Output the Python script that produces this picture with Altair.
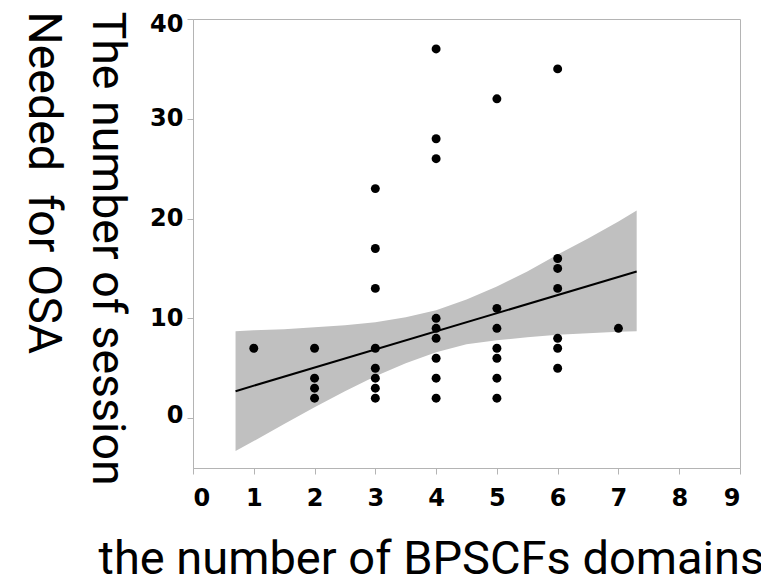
import altair as alt
import pandas as pd

# Scatter data: number of BPSCFs domains vs number of sessions
x_vals = [1,
          2, 2, 2, 2,
          3, 3, 3, 3, 3, 3, 3, 3,
          4, 4, 4, 4, 4, 4, 4, 4, 4,
          5, 5, 5, 5, 5, 5, 5,
          6, 6, 6, 6, 6, 6, 6,
          7]
y_vals = [7,
          7, 4, 3, 2,
          23, 17, 13, 7, 5, 4, 3, 2,
          37, 28, 26, 10, 9, 8, 6, 4, 2,
          32, 11, 9, 7, 6, 4, 2,
          35, 16, 15, 13, 8, 7, 5,
          9]

# Confidence band
band_x = [0.7, 1, 1.5, 2, 2.5, 3, 3.5, 4, 4.5, 5, 5.5, 6, 6.5, 7, 7.3]
band_lo = [-3.3, -2.3, -0.6, 1.1, 2.7, 4.2, 5.5, 6.6, 7.4, 7.8, 8.1, 8.35, 8.5, 8.65, 8.7]
band_hi = [8.7, 8.8, 8.9, 9.1, 9.3, 9.6, 10.1, 10.8, 11.9, 13.2, 14.7, 16.4, 18.0, 19.7, 20.8]

# Fit line end points
fit_x = [0.7, 7.3]
fit_y = [2.7, 14.7]

x_ticks = [0, 1, 2, 3, 4, 5, 6, 7, 8, 9]
y_ticks = [0, 10, 20, 30, 40]

pts = pd.DataFrame({"x": x_vals, "y": y_vals})
band = pd.DataFrame({"x": band_x, "lo": band_lo, "hi": band_hi})
fit = pd.DataFrame({"x": fit_x, "y": fit_y})

frame = "#b4b4b4"
xscale = alt.Scale(domain=[0, 9], nice=False, zero=False)
yscale = alt.Scale(domain=[-5, 40], nice=False, zero=False)

common = dict(
    grid=False,
    labelFont="DejaVu Sans",
    labelFontWeight="bold",
    labelFontSize=24,
    labelColor="black",
    tickColor=frame,
    domainColor=frame,
    tickSize=6,
    titleFont="Roboto",
    titleFontWeight="normal",
    titleColor="black",
)

xaxis = alt.Axis(
    values=x_ticks,
    title="the number of BPSCFs domains",
    labelPadding=12,
    labelBaseline="top",
    titleFontSize=47,
    titleX=-95,
    titleY=105,
    titleAlign="left",
    titleBaseline="alphabetic",
    **common,
)
yaxis = alt.Axis(
    values=y_ticks,
    title=["The number of session", "Needed \u00a0for OSA"],
    labelPadding=4,
    labelOffset={"condition": [{"test": "datum.value == 40", "value": 5},
                               {"test": "datum.value == 0", "value": -3}],
                 "value": 0},
    titleFontSize=46.5,
    titleAngle=90,
    titleX=-101,
    titleY=-8,
    titleAlign="left",
    titleBaseline="alphabetic",
    titleLineHeight=64,
    **common,
)

band_layer = alt.Chart(band).mark_area(color="#c0c0c0", opacity=1).encode(
    x=alt.X("x:Q", scale=xscale, axis=xaxis),
    y=alt.Y("lo:Q", scale=yscale, axis=yaxis),
    y2="hi:Q",
)
line_layer = alt.Chart(fit).mark_line(color="black", strokeWidth=2).encode(
    x=alt.X("x:Q", scale=xscale, axis=xaxis),
    y=alt.Y("y:Q", scale=yscale, axis=yaxis),
)
pt_layer = alt.Chart(pts).mark_circle(color="black", size=80, opacity=1).encode(
    x=alt.X("x:Q", scale=xscale, axis=xaxis),
    y=alt.Y("y:Q", scale=yscale, axis=yaxis),
)

chart = alt.layer(band_layer, line_layer, pt_layer).properties(
    width=547,
    height=449,
    autosize=alt.AutoSizeParams(type="none"),
    padding={"left": 185, "top": 11, "right": 21, "bottom": 109},
).configure_view(stroke=frame, strokeWidth=1)

chart.save("out.html", embed_options={"renderer": "svg", "actions": False})
